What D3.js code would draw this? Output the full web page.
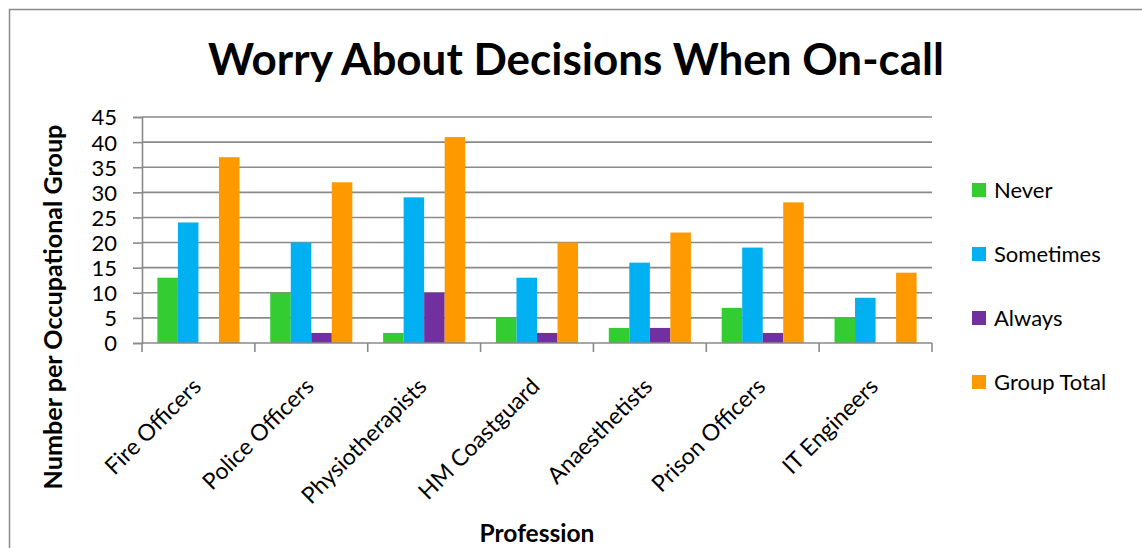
<!DOCTYPE html>
<html><head><meta charset="utf-8">
<script src="https://cdn.jsdelivr.net/npm/d3@7"></script>
<style>body{margin:0;background:#fff}svg{display:block}text{font-family:Lato,"Noto Sans",sans-serif;fill:#000}</style>
</head><body><svg id="c" width="1142" height="548"></svg>
<script>
const categories = ["Fire Officers","Police Officers","Physiotherapists","HM Coastguard","Anaesthetists","Prison Officers","IT Engineers"];
const seriesNames = ["Never","Sometimes","Always","Group Total"];
const never = [13,10,2,5,3,7,5];
const sometimes = [24,20,29,13,16,19,9];
const always = [0,2,10,2,3,2,0];
const groupTotal = [37,32,41,20,22,28,14];
const yTicks = [0,5,10,15,20,25,30,35,40,45];
const colors = ["#33CC33","#00B0F0","#7030A0","#FF9900"];

const series = [never, sometimes, always, groupTotal];
const svg = d3.select("#c");
const m = {l:142, r:932, t:117, b:343};
svg.append("rect").attr("x",9.5).attr("y",9.5).attr("width",1200).attr("height",600)
  .attr("fill","#fff").attr("stroke","#8a8a8a").attr("stroke-width",1.5);

const x0 = d3.scaleBand().domain(categories).range([m.l,m.r]).paddingInner(0).paddingOuter(0);
const x1 = d3.scaleBand().domain(seriesNames).range([0,x0.bandwidth()]).paddingInner(0).paddingOuter(0.75).align(0.5);
const y = d3.scaleLinear().domain([0,45]).range([m.b,m.t]);

// gridlines
svg.append("g").selectAll("line").data(yTicks.filter(d=>d>0)).join("line")
  .attr("x1",m.l).attr("x2",m.r).attr("y1",d=>y(d)).attr("y2",d=>y(d))
  .attr("stroke","#8a8a8a").attr("stroke-width",1.6);

// bars
const data = [];
categories.forEach((c,i)=>seriesNames.forEach((s,j)=>data.push({c,s,v:series[j][i],j})));
svg.append("g").selectAll("rect").data(data).join("rect")
  .attr("x",d=>x0(d.c)+x1(d.s)).attr("width",x1.bandwidth())
  .attr("y",d=>y(d.v)).attr("height",d=>y(0)-y(d.v))
  .attr("fill",d=>colors[d.j]);

// y axis
const ya = d3.axisLeft(y).tickValues(yTicks).tickSize(9).tickPadding(16);
const gy = svg.append("g").attr("transform",`translate(${m.l},0)`).call(ya);
gy.select(".domain").attr("stroke","#8a8a8a").attr("stroke-width",1.6);
gy.selectAll(".tick line").attr("stroke","#8a8a8a").attr("stroke-width",1.6);
gy.selectAll(".tick text").attr("font-size",22).attr("font-family","Lato").attr("fill","#000").attr("dy","0.36em");

// x axis
svg.append("line").attr("x1",m.l).attr("x2",m.r).attr("y1",m.b).attr("y2",m.b).attr("stroke","#8a8a8a").attr("stroke-width",1.6);
const bounds = categories.map(c=>x0(c)).concat([m.r]);
svg.append("g").selectAll("line").data(bounds).join("line")
  .attr("x1",d=>d).attr("x2",d=>d).attr("y1",m.b).attr("y2",m.b+9)
  .attr("stroke","#8a8a8a").attr("stroke-width",1.6);
svg.append("g").selectAll("text").data(categories).join("text")
  .attr("transform",d=>`translate(${x0(d)+x0.bandwidth()/2+4},${m.b+45}) rotate(-45)`)
  .attr("text-anchor","end").attr("font-size",23).text(d=>d);

// titles
function fit(sel, w){ const n=sel.node(); const fs=+sel.attr("font-size"); const L=n.getComputedTextLength(); sel.attr("font-size", fs*w/L); }
const t = svg.append("text").attr("x",576).attr("y",75).attr("text-anchor","middle").attr("font-weight","bold").attr("font-size",44).text("Worry About Decisions When On-call");
fit(t,736);
const yt = svg.append("text").attr("transform","translate(62,307) rotate(-90)").attr("text-anchor","middle").attr("font-weight","bold").attr("font-size",20).text("Number per Occupational Group");
fit(yt,365);
const xt = svg.append("text").attr("x",537).attr("y",542).attr("text-anchor","middle").attr("font-weight","bold").attr("font-size",22).text("Profession");
fit(xt,115);

// legend
const lg = svg.append("g").selectAll("g").data(seriesNames).join("g")
  .attr("transform",(d,i)=>`translate(972,${190+i*64})`);
lg.append("rect").attr("x",0).attr("y",-7).attr("width",14).attr("height",14).attr("fill",(d,i)=>colors[i]);
lg.append("text").attr("x",22).attr("y",8).attr("font-size",22).text(d=>d);
</script></body></html>
